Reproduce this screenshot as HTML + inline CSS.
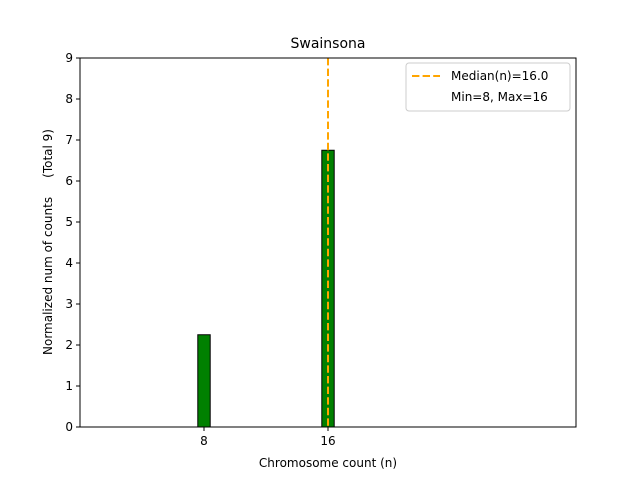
<!DOCTYPE html>
<html><head><meta charset="utf-8"><style>body{margin:0;background:#fff}svg{display:block;font-family:"DejaVu Sans","Liberation Sans",sans-serif}text{white-space:pre}</style></head>
<body>
<svg id="c" width="640" height="480"></svg>
<script>
const categories=[8,16];
const values=[2.25,6.75];
const yTicks=[0,1,2,3,4,5,6,7,8,9];
const median=16.0;
const NS="http://www.w3.org/2000/svg";
const svg=document.getElementById('c');
const L=80,R=576,T=58,B=427,xmin=0,xmax=32,ymax=9;
const X=v=>L+(v-xmin)/(xmax-xmin)*(R-L);
const Y=v=>B-v/ymax*(B-T);
function mk(tag,a,txt){const e=document.createElementNS(NS,tag);for(const k in a)e.setAttribute(k,a[k]);if(txt!==undefined)e.textContent=txt;svg.appendChild(e);return e;}
let e;
e=mk('text',{x:328,y:48,'text-anchor':'middle','font-size':14},'Swainsona');


categories.forEach((c,i)=>{
 e=mk('rect',{x:X(c-0.4),y:Y(values[i]),width:X(c+0.4)-X(c-0.4),height:B-Y(values[i]),fill:'#008000',stroke:'#000','stroke-width':1});
 
 
 e=mk('line',{x1:X(c),x2:X(c),y1:B,y2:B+4,stroke:'#000'});
 
 
 e=mk('text',{x:X(c),y:B+18,'text-anchor':'middle','font-size':12},String(c));
 
 
});
e=mk('line',{x1:X(median),x2:X(median),y1:T,y2:B,stroke:'#ffa500','stroke-width':2,'stroke-dasharray':'7.4,3.2'});


yTicks.forEach(t=>{
 e=mk('line',{x1:L-4,x2:L,y1:Y(t),y2:Y(t),stroke:'#000'});
 
 
 e=mk('text',{x:L-7,y:Y(t)+4,'text-anchor':'end','font-size':12},String(t));
 
 
});
e=mk('rect',{x:L,y:T,width:R-L,height:B-T,fill:'none',stroke:'#000'});


e=mk('text',{x:328,y:467,'text-anchor':'middle','font-size':12},'Chromosome count (n)');


e=mk('text',{x:0,y:0,'text-anchor':'middle','font-size':12,transform:'translate(52,242) rotate(-90)'},'Normalized num of counts     (Total 9)');


e=mk('rect',{x:406,y:63,width:164,height:48,rx:3,fill:'#fff','fill-opacity':0.8,stroke:'#ccc'});


e=mk('line',{x1:412,x2:440,y1:76,y2:76,stroke:'#ffa500','stroke-width':2,'stroke-dasharray':'7.4,3.2'});


e=mk('text',{x:451,y:80,'font-size':12},'Median(n)='+median.toFixed(1));


e=mk('text',{x:451,y:101,'font-size':12},'Min=8, Max=16');


</script>
</body></html>
